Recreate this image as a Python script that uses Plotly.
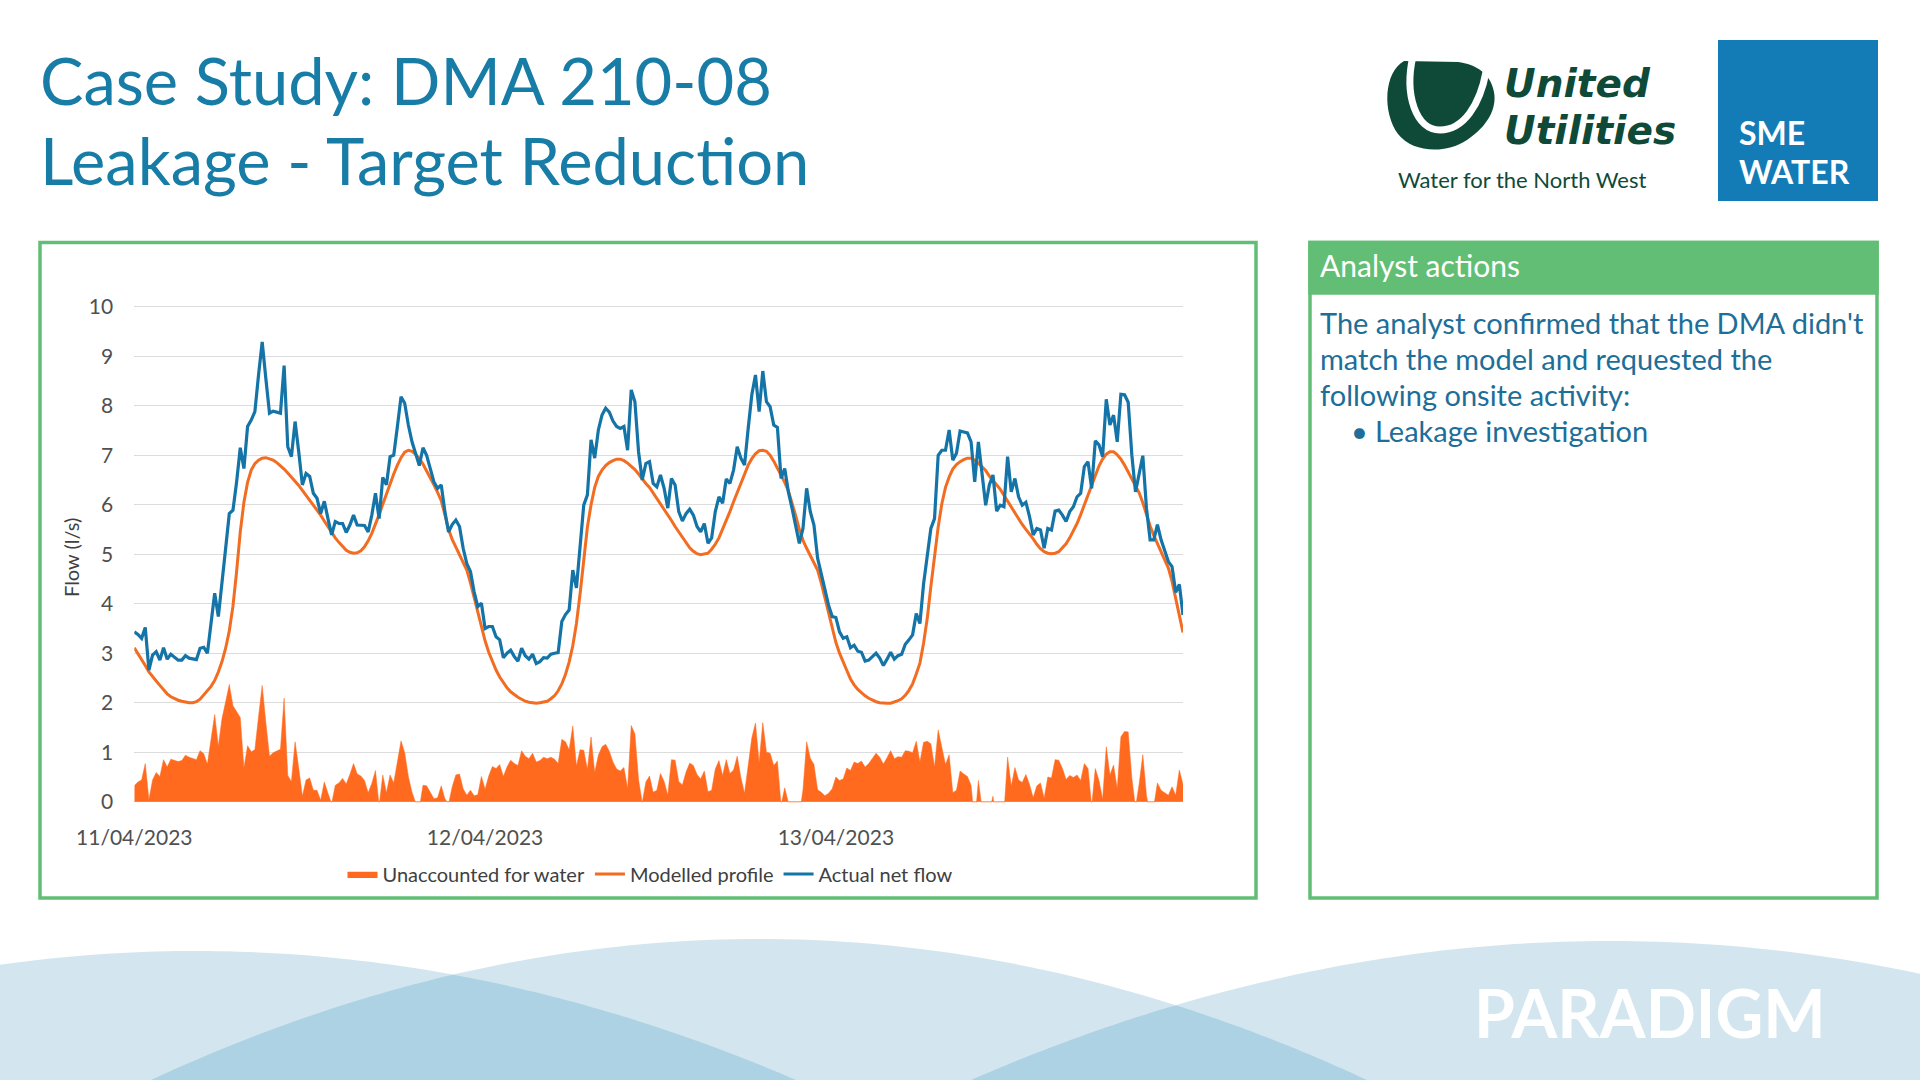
import numpy as np
import pandas as pd
import plotly.graph_objects as go

W, H = 1920, 1080

# ---------------- data (15-minute readings, 11/04/2023 00:00 -> 13/04/2023 23:45) ----------------
START = "2023-04-11 00:00"
N_POINTS = 288
times = pd.date_range(START, periods=N_POINTS, freq="15min")

actual_net_flow = [
    3.43, 3.38, 3.30, 3.52, 2.66, 2.96, 3.03, 2.86, 3.11, 2.88,
    2.98, 2.91, 2.86, 2.86, 2.95, 2.90, 2.88, 2.87, 3.10, 3.12,
    3.00, 3.60, 4.21, 3.74, 4.51, 5.12, 5.82, 5.89, 6.46, 7.15,
    6.73, 7.58, 7.71, 7.88, 8.62, 9.29, 8.55, 7.85, 7.89, 7.87,
    7.85, 8.81, 7.17, 6.97, 7.68, 7.07, 6.40, 6.63, 6.57, 6.23,
    6.13, 5.82, 6.07, 5.72, 5.39, 5.66, 5.62, 5.62, 5.44, 5.59,
    5.79, 5.59, 5.59, 5.58, 5.45, 5.79, 6.23, 5.72, 6.55, 6.40,
    6.97, 7.00, 7.58, 8.18, 8.05, 7.61, 7.27, 7.00, 6.79, 7.15,
    7.00, 6.73, 6.46, 6.33, 6.40, 5.86, 5.45, 5.60, 5.69, 5.56,
    5.12, 4.81, 4.65, 4.24, 3.94, 4.01, 3.50, 3.54, 3.54, 3.33,
    3.27, 2.91, 3.00, 3.06, 2.93, 2.84, 3.10, 2.95, 2.88, 2.98,
    2.79, 2.83, 2.91, 2.90, 2.98, 3.00, 3.01, 3.64, 3.78, 3.87,
    4.68, 4.32, 5.25, 5.99, 6.20, 7.31, 6.94, 7.51, 7.81, 7.95,
    7.87, 7.69, 7.58, 7.54, 7.58, 7.10, 8.32, 8.08, 7.07, 6.50,
    6.83, 6.87, 6.43, 6.36, 6.60, 6.33, 5.93, 6.53, 6.40, 5.86,
    5.67, 5.82, 5.91, 5.79, 5.56, 5.45, 5.62, 5.22, 5.33, 5.86,
    6.16, 6.03, 6.52, 6.43, 6.70, 7.17, 6.94, 6.80, 7.54, 8.22,
    8.62, 7.88, 8.70, 8.08, 7.98, 7.61, 7.56, 6.53, 6.73, 6.26,
    5.93, 5.59, 5.22, 5.52, 6.33, 5.86, 5.59, 4.92, 4.61, 4.24,
    3.97, 3.74, 3.72, 3.43, 3.30, 3.33, 3.11, 3.16, 3.04, 3.02,
    2.84, 2.86, 2.93, 3.00, 2.90, 2.75, 2.88, 3.02, 2.88, 2.95,
    2.98, 3.18, 3.27, 3.37, 3.80, 3.60, 4.40, 4.92, 5.52, 5.72,
    7.00, 7.10, 7.10, 7.51, 6.90, 7.04, 7.49, 7.47, 7.45, 7.27,
    6.46, 7.27, 6.60, 5.99, 6.40, 6.60, 5.87, 5.99, 5.96, 6.97,
    6.26, 6.53, 6.16, 5.99, 6.05, 5.76, 5.39, 5.52, 5.49, 5.12,
    5.52, 5.49, 5.87, 5.89, 5.79, 5.66, 5.86, 5.96, 6.16, 6.23,
    6.77, 6.87, 6.33, 7.29, 7.21, 6.97, 8.13, 7.61, 7.81, 7.27,
    8.23, 8.22, 8.07, 7.00, 6.26, 6.60, 6.99, 5.93, 5.29, 5.29,
    5.60, 5.29, 5.08, 4.85, 4.75, 4.23, 4.39, 3.77,
]

modelled_profile = [
    3.11, 2.98, 2.86, 2.75, 2.62, 2.52, 2.44, 2.35, 2.26, 2.18,
    2.12, 2.08, 2.05, 2.03, 2.01, 2.00, 2.00, 2.02, 2.07, 2.15,
    2.24, 2.33, 2.45, 2.62, 2.83, 3.10, 3.45, 3.95, 4.65, 5.45,
    6.05, 6.45, 6.70, 6.83, 6.90, 6.94, 6.95, 6.93, 6.90, 6.85,
    6.79, 6.72, 6.64, 6.56, 6.47, 6.39, 6.29, 6.19, 6.09, 6.00,
    5.90, 5.79, 5.67, 5.55, 5.43, 5.33, 5.24, 5.15, 5.08, 5.04,
    5.02, 5.03, 5.07, 5.15, 5.27, 5.42, 5.60, 5.80, 6.01, 6.22,
    6.43, 6.62, 6.80, 6.95, 7.06, 7.10, 7.08, 7.02, 6.93, 6.82,
    6.68, 6.55, 6.40, 6.25, 6.08, 5.80, 5.50, 5.30, 5.15, 5.00,
    4.86, 4.68, 4.42, 4.12, 3.80, 3.50,
    3.25, 3.02, 2.83, 2.66, 2.52, 2.40, 2.30, 2.22, 2.16, 2.11,
    2.07, 2.03, 2.01, 2.00, 1.99, 2.00, 2.01, 2.03, 2.08, 2.14,
    2.24, 2.38, 2.57, 2.82, 3.15, 3.60, 4.20, 4.95, 5.55, 6.00,
    6.35, 6.57, 6.70, 6.79, 6.85, 6.89, 6.92, 6.92, 6.89, 6.84,
    6.78, 6.71, 6.62, 6.52, 6.43, 6.35, 6.24, 6.13, 6.03, 5.92,
    5.80, 5.68, 5.56, 5.45, 5.33, 5.22, 5.13, 5.06, 5.01, 4.99,
    5.00, 5.02, 5.10, 5.20, 5.33, 5.50, 5.67, 5.86, 6.06, 6.25,
    6.45, 6.63, 6.80, 6.93, 7.03, 7.09, 7.10, 7.08, 7.00, 6.88,
    6.74, 6.60, 6.45, 6.28, 6.05, 5.78, 5.50, 5.28, 5.12, 4.98,
    4.84, 4.68, 4.42, 4.12, 3.80, 3.48,
    3.22, 3.00, 2.84, 2.65, 2.48, 2.36, 2.27, 2.20, 2.14, 2.09,
    2.05, 2.02, 2.00, 1.99, 1.99, 1.99, 2.01, 2.04, 2.08, 2.15,
    2.25, 2.38, 2.58, 2.80, 3.20, 3.70, 4.35, 5.02, 5.55, 6.02,
    6.35, 6.56, 6.72, 6.81, 6.87, 6.91, 6.94, 6.94, 6.90, 6.84,
    6.77, 6.69, 6.58, 6.49, 6.40, 6.31, 6.19, 6.07, 5.95, 5.84,
    5.72, 5.60, 5.50, 5.41, 5.31, 5.20, 5.11, 5.05, 5.02, 5.01,
    5.02, 5.05, 5.12, 5.21, 5.33, 5.47, 5.62, 5.80, 6.00, 6.20,
    6.42, 6.62, 6.78, 6.92, 7.02, 7.07, 7.07, 7.01, 6.92, 6.80,
    6.66, 6.52, 6.38, 6.24, 6.04, 5.80, 5.57, 5.38, 5.22, 5.06,
    4.90, 4.72, 4.45, 4.10, 3.75, 3.42,
]

# unaccounted for water = actual net flow minus modelled profile
unaccounted_for_water = [round(a - m, 2) for a, m in zip(actual_net_flow, modelled_profile)]

x_tick_values = ["2023-04-11", "2023-04-12", "2023-04-13"]
x_tick_labels = ["11/04/2023", "12/04/2023", "13/04/2023"]
y_tick_values = [0, 1, 2, 3, 4, 5, 6, 7, 8, 9, 10]

# ---------------- styling helpers ----------------
FONT = "Lato"
TITLE_BLUE = "#177ca6"
BODY_BLUE = "#1d6e98"
GREEN = "#62be74"
UU_GREEN = "#0f4a39"
ORANGE_AREA = "#ff6a1f"
ORANGE_LINE = "#f26c22"
BLUE_LINE = "#1474a7"
AXIS_TEXT = "#505050"


def X(px):
    return px / W


def Y(py):
    return 1 - py / H


def path_from(points):
    return "M " + " L ".join(f"{X(x):.5f},{Y(y):.5f}" for x, y in points) + " Z"


fig = go.Figure()

fig.add_trace(go.Scatter(
    x=times, y=unaccounted_for_water, name="Unaccounted for water",
    mode="lines", line=dict(color=ORANGE_AREA, width=0.5),
    fill="tozeroy", fillcolor=ORANGE_AREA,
))
fig.add_trace(go.Scatter(
    x=times, y=modelled_profile, name="Modelled profile",
    mode="lines", line=dict(color=ORANGE_LINE, width=3),
))
fig.add_trace(go.Scatter(
    x=times, y=actual_net_flow, name="Actual net flow",
    mode="lines", line=dict(color=BLUE_LINE, width=3.2),
))

PX_PER_UNIT = 49.5
Y0_PX = 801.7
y_lo, y_hi = -0.01, 10.03

fig.update_layout(
    width=W, height=H,
    margin=dict(l=0, r=0, t=0, b=0, autoexpand=False),
    paper_bgcolor="white", plot_bgcolor="white",
    font=dict(family=FONT, color="#404040"),
    xaxis=dict(
        type="date", automargin=False,
        domain=[X(134.3), X(1183)],
        range=[times[0], times[-1]],
        tickvals=x_tick_values, ticktext=x_tick_labels,
        showgrid=False, zeroline=False, showline=False,
        ticks="outside", ticklen=17, tickcolor="rgba(0,0,0,0)",
        tickfont=dict(family=FONT, size=21, color=AXIS_TEXT),
    ),
    yaxis=dict(
        automargin=False,
        domain=[Y(Y0_PX - y_lo * PX_PER_UNIT), Y(Y0_PX - y_hi * PX_PER_UNIT)],
        range=[y_lo, y_hi],
        tickvals=y_tick_values,
        showgrid=True, gridcolor="#dcdcdc", gridwidth=1,
        zeroline=True, zerolinecolor="#d0d0d0", zerolinewidth=1,
        showline=False,
        ticks="outside", ticklen=16, tickcolor="rgba(0,0,0,0)",
        tickfont=dict(family=FONT, size=21, color=AXIS_TEXT),
    ),
    legend=dict(
        orientation="h", x=X(650), xanchor="center", y=Y(874), yanchor="middle",
        font=dict(family=FONT, size=20, color="#404040"),
        bgcolor="rgba(0,0,0,0)", itemwidth=30, tracegroupgap=0,
    ),
    showlegend=True,
)

shapes = []

# ---- bottom decorative waves ----
def arc(px_, py_, drop, hw):
    return lambda x: py_ + drop * ((x - px_) / hw) ** 2

arcA = (196, 951, 129, 600)
arcB = (759, 939, 141, 608)
arcC = (1610, 941, 139, 639)
LIGHT = "#d3e6ef"
DARK = "#acd2e3"

for (pxa, pya, dr, hw) in (arcA, arcB, arcC):
    f = arc(pxa, pya, dr, hw)
    xs = np.linspace(max(pxa - hw, -5), min(pxa + hw, W + 5), 80)
    pts = [(x, min(f(x), H + 2)) for x in xs]
    pts += [(xs[-1], H + 2), (xs[0], H + 2)]
    shapes.append(dict(type="path", path=path_from(pts), xref="paper", yref="paper",
                       fillcolor=LIGHT, line=dict(width=0), layer="below"))

for a1, a2 in ((arcA, arcB), (arcB, arcC)):
    f1, f2 = arc(*a1), arc(*a2)
    x_start = a2[0] - a2[3]
    x_end = a1[0] + a1[3]
    xs = np.linspace(x_start, x_end, 80)
    pts = [(x, min(max(f1(x), f2(x)), H + 2)) for x in xs]
    pts += [(x_end, H + 2), (x_start, H + 2)]
    shapes.append(dict(type="path", path=path_from(pts), xref="paper", yref="paper",
                       fillcolor=DARK, line=dict(width=0), layer="below"))

# ---- chart frame ----
shapes.append(dict(type="rect", xref="paper", yref="paper",
                   x0=X(40), x1=X(1256), y0=Y(898), y1=Y(242.5),
                   line=dict(color=GREEN, width=3.5), fillcolor="rgba(0,0,0,0)", layer="below"))

# ---- analyst actions box ----
shapes.append(dict(type="rect", xref="paper", yref="paper",
                   x0=X(1310), x1=X(1877), y0=Y(898), y1=Y(242.5),
                   line=dict(color=GREEN, width=3.5), fillcolor="white", layer="below"))
shapes.append(dict(type="rect", xref="paper", yref="paper",
                   x0=X(1310), x1=X(1877), y0=Y(293), y1=Y(242.5),
                   line=dict(color=GREEN, width=3.5), fillcolor=GREEN, layer="below"))

# ---- SME Water logo box ----
shapes.append(dict(type="rect", xref="paper", yref="paper",
                   x0=X(1718), x1=X(1878), y0=Y(201), y1=Y(40),
                   line=dict(width=0), fillcolor="#137bb5", layer="below"))

# ---- United Utilities emblem (approximation) ----
def P(x, y):
    return f"{X(x):.5f},{Y(y):.5f}"

blob = (f"M {P(1404,61)} C {P(1384,72)} {P(1382,112)} {P(1398,134)} "
        f"C {P(1412,152)} {P(1444,155)} {P(1467,140)} "
        f"C {P(1488,126)} {P(1497,108)} {P(1494,92)} "
        f"C {P(1491,74)} {P(1476,64)} {P(1458,62)} Z")
shapes.append(dict(type="path", path=blob, xref="paper", yref="paper",
                   fillcolor=UU_GREEN, line=dict(width=0)))
ustroke = (f"M {P(1413,56)} C {P(1404,95)} {P(1416,130)} {P(1440,130)} "
           f"C {P(1464,130)} {P(1480,104)} {P(1486,72)}")
shapes.append(dict(type="path", path=ustroke, xref="paper", yref="paper",
                   fillcolor="rgba(0,0,0,0)", line=dict(color="white", width=7)))

fig.update_layout(shapes=shapes)

# ---------------- text ----------------
ann = []

def text(x, y, s, size, color, xanchor="left", yanchor="middle", align="left", family=FONT):
    ann.append(dict(x=X(x), y=Y(y), xref="paper", yref="paper", text=s, showarrow=False,
                    xanchor=xanchor, yanchor=yanchor, align=align,
                    font=dict(family=family, size=size, color=color)))

text(38, 80, "Case Study: DMA 210-08", 65, TITLE_BLUE)
text(38, 160, "Leakage - Target Reduction", 65, TITLE_BLUE)

text(1502, 84, "<b><i>United</i></b>", 39, UU_GREEN, family="DejaVu Sans")
text(1502, 131, "<b><i>Utilities</i></b>", 39, UU_GREEN, family="DejaVu Sans")
text(1396, 179, "Water for the North West", 22, UU_GREEN)

text(1737, 133, "<b>SME</b>", 32, "white")
text(1737, 172, "<b>WATER</b>", 32, "white")

text(1650, 1012, "<b>PARADIGM</b>", 66, "white", xanchor="center")

text(1318, 265, "Analyst actions", 30, "white")
text(1318, 322, "The analyst confirmed that the DMA didn't", 29, BODY_BLUE)
text(1318, 358, "match the model and requested the", 29, BODY_BLUE)
text(1318, 395, "following onsite activity:", 29, BODY_BLUE)
text(1349, 430, "\u2022", 29, BODY_BLUE)
text(1373, 430, "Leakage investigation", 29, BODY_BLUE)

ann.append(dict(x=X(71), y=Y(558), xref="paper", yref="paper", text="Flow (l/s)",
                showarrow=False, textangle=-90, xanchor="center", yanchor="middle",
                font=dict(family=FONT, size=20, color="#404040")))

fig.update_layout(annotations=ann)

fig.write_html(
    "out.html",
    config={"displayModeBar": False},
    post_script="document.body.style.margin='0';document.body.style.overflow='hidden';",
)
